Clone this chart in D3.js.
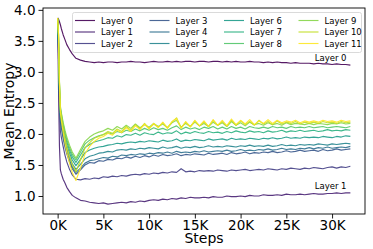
<!DOCTYPE html>
<html>
<head>
<meta charset="utf-8">
<script src="https://cdn.jsdelivr.net/npm/d3@7"></script>
<style>
    body { margin: 0; background: #fff; }
    text { font-family: "DejaVu Sans", sans-serif; }
</style>
</head>
<body>
<div id="chart"></div>
<script>
// Mean entropy per layer over training steps

var steps = [0, 100, 200, 300, 400, 600, 800, 1000, 1300, 1600, 2000, 2500,
    3000, 3500, 4000, 4500, 5000, 5500, 6000, 6500, 7000, 7500,
    8000, 8500, 9000, 9500, 10000, 10500, 11000, 11500, 12000, 12500,
    13000, 13500, 14000, 14500, 15000, 15500, 16000, 16500, 17000, 17500,
    18000, 18500, 19000, 19500, 20000, 20500, 21000, 21500, 22000, 22500,
    23000, 23500, 24000, 24500, 25000, 25500, 26000, 26500, 27000, 27500,
    28000, 28500, 29000, 29500, 30000, 30500, 31000, 31500, 32000];

var layerNames = ["Layer 0", "Layer 1", "Layer 2", "Layer 3", "Layer 4", "Layer 5",
    "Layer 6", "Layer 7", "Layer 8", "Layer 9", "Layer 10", "Layer 11"];

var layer0 = [3.87, 3.85, 3.81, 3.76, 3.70, 3.60, 3.52, 3.44, 3.36, 3.29, 3.22, 3.19,
    3.17, 3.16, 3.15, 3.16, 3.15, 3.16, 3.16, 3.15, 3.16, 3.16,
    3.17, 3.16, 3.16, 3.15, 3.16, 3.17, 3.16, 3.16, 3.17, 3.16,
    3.17, 3.16, 3.17, 3.17, 3.16, 3.17, 3.17, 3.16, 3.17, 3.17,
    3.16, 3.17, 3.16, 3.17, 3.16, 3.16, 3.17, 3.16, 3.16, 3.15,
    3.16, 3.15, 3.16, 3.15, 3.15, 3.14, 3.15, 3.14, 3.14, 3.14,
    3.13, 3.14, 3.13, 3.13, 3.12, 3.13, 3.12, 3.12, 3.11];
var layer1 = [3.85, 2.70, 1.80, 1.42, 1.36, 1.27, 1.21, 1.14, 1.07, 1.01, 0.97, 0.93,
    0.92, 0.90, 0.89, 0.88, 0.89, 0.87, 0.88, 0.89, 0.90, 0.89,
    0.91, 0.90, 0.92, 0.91, 0.93, 0.94, 0.93, 0.95, 0.94, 0.96,
    0.95, 0.97, 0.96, 0.98, 0.97, 0.97, 0.98, 0.97, 0.99, 0.98,
    0.98, 1.00, 0.99, 0.99, 1.00, 0.99, 1.01, 1.00, 1.00, 1.02,
    1.01, 1.01, 1.02, 1.01, 1.03, 1.02, 1.02, 1.03, 1.02, 1.03,
    1.04, 1.03, 1.03, 1.04, 1.04, 1.05, 1.04, 1.05, 1.05];
var layer2 = [3.85, 3.20, 2.40, 2.05, 1.95, 1.80, 1.66, 1.55, 1.43, 1.34, 1.27, 1.26,
    1.28, 1.27, 1.29, 1.28, 1.31, 1.30, 1.32, 1.31, 1.33, 1.32,
    1.34, 1.35, 1.34, 1.36, 1.35, 1.37, 1.36, 1.38, 1.37, 1.39,
    1.38, 1.44, 1.39, 1.40, 1.39, 1.41, 1.40, 1.41, 1.40, 1.42,
    1.41, 1.40, 1.42, 1.41, 1.42, 1.43, 1.41, 1.42, 1.43, 1.42,
    1.44, 1.43, 1.42, 1.44, 1.43, 1.45, 1.44, 1.43, 1.45, 1.44,
    1.46, 1.45, 1.44, 1.46, 1.47, 1.45, 1.47, 1.46, 1.48];
var layer3 = [3.85, 3.30, 2.55, 2.20, 2.10, 1.93, 1.79, 1.68, 1.55, 1.44, 1.35, 1.42,
    1.50, 1.54, 1.53, 1.57, 1.56, 1.59, 1.58, 1.61, 1.60, 1.63,
    1.61, 1.64, 1.62, 1.65, 1.63, 1.66, 1.64, 1.67, 1.65, 1.66,
    1.68, 1.65, 1.67, 1.66, 1.68, 1.67, 1.66, 1.69, 1.67, 1.68,
    1.69, 1.67, 1.70, 1.68, 1.69, 1.71, 1.68, 1.70, 1.69, 1.71,
    1.70, 1.72, 1.70, 1.71, 1.73, 1.71, 1.72, 1.74, 1.72, 1.73,
    1.74, 1.72, 1.75, 1.73, 1.74, 1.76, 1.74, 1.75, 1.76];
var layer4 = [3.85, 3.35, 2.60, 2.25, 2.14, 1.97, 1.83, 1.71, 1.58, 1.47, 1.38, 1.45,
    1.53, 1.57, 1.58, 1.60, 1.62, 1.61, 1.64, 1.63, 1.66, 1.65,
    1.67, 1.66, 1.68, 1.67, 1.69, 1.68, 1.70, 1.69, 1.71, 1.69,
    1.72, 1.70, 1.71, 1.70, 1.72, 1.71, 1.73, 1.71, 1.72, 1.73,
    1.72, 1.74, 1.72, 1.73, 1.75, 1.73, 1.74, 1.73, 1.75, 1.74,
    1.76, 1.74, 1.75, 1.77, 1.75, 1.76, 1.75, 1.77, 1.76, 1.78,
    1.76, 1.78, 1.77, 1.79, 1.77, 1.78, 1.79, 1.78, 1.80];
var layer5 = [3.85, 3.40, 2.65, 2.30, 2.19, 2.02, 1.88, 1.76, 1.63, 1.52, 1.43, 1.51,
    1.60, 1.64, 1.66, 1.69, 1.70, 1.72, 1.71, 1.74, 1.75, 1.74,
    1.76, 1.75, 1.77, 1.76, 1.78, 1.77, 1.76, 1.79, 1.77, 1.78,
    1.80, 1.77, 1.79, 1.78, 1.80, 1.78, 1.79, 1.81, 1.79, 1.80,
    1.79, 1.81, 1.80, 1.79, 1.81, 1.80, 1.82, 1.80, 1.81, 1.80,
    1.82, 1.80, 1.81, 1.83, 1.81, 1.82, 1.81, 1.83, 1.82, 1.83,
    1.82, 1.84, 1.83, 1.82, 1.84, 1.83, 1.84, 1.85, 1.84];
var layer6 = [3.85, 3.45, 2.70, 2.34, 2.24, 2.07, 1.93, 1.82, 1.69, 1.58, 1.49, 1.59,
    1.70, 1.74, 1.77, 1.79, 1.80, 1.82, 1.83, 1.85, 1.84, 1.86,
    1.87, 1.86, 1.88, 1.87, 1.89, 1.88, 1.87, 1.90, 1.88, 1.89,
    1.92, 1.88, 1.90, 1.89, 1.91, 1.90, 1.89, 1.92, 1.90, 1.91,
    1.92, 1.90, 1.93, 1.91, 1.92, 1.91, 1.93, 1.92, 1.91, 1.93,
    1.92, 1.94, 1.92, 1.93, 1.95, 1.93, 1.94, 1.93, 1.95, 1.94,
    1.95, 1.94, 1.96, 1.95, 1.94, 1.96, 1.95, 1.97, 1.96];
var layer7 = [3.86, 3.50, 2.75, 2.38, 2.28, 2.12, 1.98, 1.87, 1.74, 1.63, 1.54, 1.66,
    1.78, 1.83, 1.87, 1.89, 1.91, 1.94, 1.93, 1.97, 1.95, 1.99,
    1.98, 2.01, 1.98, 2.02, 2.00, 1.99, 2.03, 2.00, 2.02, 2.01,
    2.05, 2.00, 2.03, 2.01, 2.04, 2.02, 2.01, 2.04, 2.02, 2.03,
    2.01, 2.04, 2.02, 2.05, 2.03, 2.02, 2.05, 2.03, 2.04, 2.02,
    2.05, 2.03, 2.04, 2.06, 2.03, 2.05, 2.04, 2.06, 2.04, 2.05,
    2.06, 2.04, 2.05, 2.07, 2.05, 2.06, 2.05, 2.07, 2.06];
var layer8 = [3.86, 3.55, 2.80, 2.42, 2.32, 2.16, 2.02, 1.91, 1.78, 1.67, 1.58, 1.71,
    1.84, 1.90, 1.94, 1.97, 1.99, 2.02, 2.00, 2.04, 2.02, 2.06,
    2.04, 2.08, 2.05, 2.09, 2.06, 2.10, 2.07, 2.09, 2.06, 2.10,
    2.13, 2.07, 2.11, 2.08, 2.10, 2.07, 2.11, 2.09, 2.12, 2.08,
    2.11, 2.08, 2.12, 2.09, 2.11, 2.08, 2.12, 2.10, 2.09, 2.11,
    2.09, 2.12, 2.10, 2.11, 2.09, 2.12, 2.10, 2.11, 2.10, 2.12,
    2.10, 2.11, 2.12, 2.10, 2.11, 2.12, 2.11, 2.10, 2.12];
var layer9 = [3.86, 3.60, 2.85, 2.45, 2.35, 2.19, 2.06, 1.95, 1.82, 1.71, 1.61, 1.75,
    1.88, 1.95, 2.00, 2.03, 2.05, 2.09, 2.06, 2.12, 2.08, 2.14,
    2.09, 2.16, 2.10, 2.15, 2.11, 2.17, 2.12, 2.16, 2.10, 2.18,
    2.22, 2.11, 2.17, 2.12, 2.19, 2.13, 2.17, 2.12, 2.19, 2.14,
    2.18, 2.12, 2.20, 2.14, 2.18, 2.13, 2.19, 2.15, 2.17, 2.14,
    2.18, 2.15, 2.17, 2.14, 2.18, 2.15, 2.17, 2.16, 2.15, 2.17,
    2.15, 2.17, 2.16, 2.15, 2.17, 2.16, 2.18, 2.16, 2.17];
var layer10 = [3.87, 3.60, 2.82, 2.40, 2.28, 2.10, 1.94, 1.80, 1.64, 1.51, 1.39, 1.58,
    1.78, 1.86, 1.93, 1.96, 1.99, 2.04, 2.01, 2.08, 2.04, 2.12,
    2.06, 2.15, 2.08, 2.17, 2.09, 2.16, 2.11, 2.18, 2.10, 2.19,
    2.26, 2.10, 2.19, 2.12, 2.21, 2.13, 2.19, 2.12, 2.22, 2.14,
    2.20, 2.13, 2.22, 2.14, 2.21, 2.15, 2.20, 2.14, 2.22, 2.16,
    2.20, 2.15, 2.21, 2.16, 2.19, 2.17, 2.20, 2.16, 2.19, 2.17,
    2.19, 2.17, 2.20, 2.18, 2.19, 2.17, 2.20, 2.18, 2.19];
var layer11 = [3.87, 3.60, 2.80, 2.35, 2.22, 2.03, 1.85, 1.70, 1.53, 1.38, 1.25, 1.45,
    1.68, 1.80, 1.88, 1.93, 1.96, 2.01, 1.98, 2.06, 2.02, 2.10,
    2.04, 2.13, 2.07, 2.16, 2.08, 2.17, 2.10, 2.19, 2.09, 2.20,
    2.25, 2.09, 2.20, 2.11, 2.22, 2.13, 2.21, 2.12, 2.23, 2.14,
    2.22, 2.13, 2.24, 2.15, 2.22, 2.16, 2.23, 2.15, 2.21, 2.17,
    2.23, 2.17, 2.22, 2.18, 2.21, 2.19, 2.22, 2.18, 2.21, 2.19,
    2.21, 2.19, 2.22, 2.20, 2.21, 2.19, 2.22, 2.20, 2.21];

var layers = [layer0, layer1, layer2, layer3, layer4, layer5,
    layer6, layer7, layer8, layer9, layer10, layer11];

var yTicks = [1.0, 1.5, 2.0, 2.5, 3.0, 3.5, 4.0];
var xTicks = [0, 5000, 10000, 15000, 20000, 25000, 30000];

// Plot area
var width = 373, height = 249;
var plotLeft = 43, plotRight = 365, plotTop = 8, plotBottom = 214;

var svg = d3.select("#chart")
    .append("svg")
    .attr("width", width)
    .attr("height", height);

var x = d3.scaleLinear()
    .domain([-1600, 33600])
    .range([plotLeft, plotRight]);

var y = d3.scaleLinear()
    .domain([0.71, 4.03])
    .range([plotBottom, plotTop]);

var color = function (i) { return d3.interpolateViridis(i / 11); };

// Draw lines, layer 0 first so yellow ends up on top
var line = d3.line()
    .x(function (d, i) { return x(steps[i]); })
    .y(function (d) { return y(d); });

layers.forEach(function (vals, i) {
    svg.append("path")
        .datum(vals)
        .attr("d", line)
        .attr("fill", "none")
        .attr("stroke", color(i))
        .attr("stroke-width", 1.15)
        .attr("stroke-opacity", 0.9)
        .attr("stroke-linejoin", "round");
});

// Axes
var xAxis = svg.append("g")
    .attr("transform", "translate(0," + plotBottom + ")")
    .call(d3.axisBottom(x)
        .tickValues(xTicks)
        .tickSize(4.5)
        .tickPadding(1.5)
        .tickFormat(function (d) { return (d / 1000) + "K"; }));

var yAxis = svg.append("g")
    .attr("transform", "translate(" + plotLeft + ",0)")
    .call(d3.axisLeft(y)
        .tickValues(yTicks)
        .tickSize(4.5)
        .tickPadding(3)
        .tickFormat(d3.format(".1f")));

[xAxis, yAxis].forEach(function (g) {
    g.select(".domain").remove();
    g.selectAll("line").attr("stroke", "#000").attr("stroke-width", 0.9);
    g.selectAll("text")
        .attr("font-family", "DejaVu Sans, sans-serif")
        .attr("font-size", "13.5px")
        .attr("fill", "#000");
});

// Frame
svg.append("rect")
    .attr("x", plotLeft)
    .attr("y", plotTop)
    .attr("width", plotRight - plotLeft)
    .attr("height", plotBottom - plotTop)
    .attr("fill", "none")
    .attr("stroke", "#000")
    .attr("stroke-width", 0.9);

// Axis labels
svg.append("text")
    .attr("x", (plotLeft + plotRight) / 2)
    .attr("y", 243)
    .attr("text-anchor", "middle")
    .attr("font-size", "14px")
    .text("Steps");

svg.append("text")
    .attr("transform", "translate(14," + ((plotTop + plotBottom) / 2) + ") rotate(-90)")
    .attr("text-anchor", "middle")
    .attr("font-size", "14px")
    .text("Mean Entropy");

// Line annotations
svg.append("text")
    .attr("x", x(28100))
    .attr("y", y(3.18))
    .attr("font-size", "8.5px")
    .text("Layer 0");

svg.append("text")
    .attr("x", x(28100))
    .attr("y", y(1.11))
    .attr("font-size", "8.5px")
    .text("Layer 1");

// Legend: 4 columns, 3 rows
var legend = svg.append("g");

legend.append("rect")
    .attr("x", 72.5)
    .attr("y", 12.5)
    .attr("width", 289)
    .attr("height", 40)
    .attr("rx", 2)
    .attr("fill", "#fff")
    .attr("fill-opacity", 0.8)
    .attr("stroke", "#d0d0d0")
    .attr("stroke-width", 0.8);

var colX = [75, 149.5, 224, 298.5];
var rowY = [20.5, 32, 43.5];

layerNames.forEach(function (name, i) {
    var cx = colX[Math.floor(i / 3)];
    var cy = rowY[i % 3];
    legend.append("line")
        .attr("x1", cx)
        .attr("x2", cx + 20)
        .attr("y1", cy)
        .attr("y2", cy)
        .attr("stroke", color(i))
        .attr("stroke-opacity", 0.9)
        .attr("stroke-width", 1.15);
    legend.append("text")
        .attr("x", cx + 26)
        .attr("y", cy + 3)
        .attr("font-size", "8.5px")
        .text(name);
});
</script>
</body>
</html>
